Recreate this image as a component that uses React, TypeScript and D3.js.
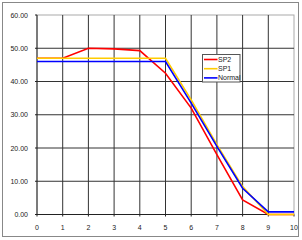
import React from "react";
import * as d3 from "d3";

const xValues = [0, 1, 2, 3, 4, 5, 6, 7, 8, 9, 10];
const sp2 = [47, 47, 50, 49.8, 49.3, 42.5, 32, 18, 4.4, 0, 0];
const sp1 = [47, 47, 47, 47, 47, 47, 34.5, 21, 8.4, 0, 0];
const normal = [46, 46, 46, 46, 46, 46, 33.5, 20.5, 7.9, 0.8, 0.8];
const yTicks = [0, 10, 20, 30, 40, 50, 60];
const xTicks = [0, 1, 2, 3, 4, 5, 6, 7, 8, 9, 10];
const seriesNames = ["SP2", "SP1", "Normal"];
const seriesColors = ["#ff0000", "#ffcc00", "#0000ff"];

const W = 302;
const H = 240;
const L = 37;
const R = 294;
const T = 15;
const B = 214.5;

export default function App() {
  const x = d3.scaleLinear().domain([0, 10]).range([L, R]);
  const y = d3.scaleLinear().domain([0, 60]).range([B, T]);
  const line = d3
    .line<number>()
    .x((_, i) => x(xValues[i]))
    .y((d) => y(d));
  const series = [sp2, sp1, normal];
  const font = "Arial, 'Liberation Sans', sans-serif";
  return (
    <svg
      width={W}
      height={H}
      style={{ position: "absolute", left: 0, top: 0, background: "#fff" }}
    >
      <rect x={2.5} y={2.5} width={296} height={234} fill="#fff" stroke="#888" strokeWidth={1} />
      <rect x={L} y={T} width={R - L} height={B - T} fill="#fff" stroke="#aaa" strokeWidth={1} />
      {yTicks.slice(1, -1).map((t) => (
        <line key={"gy" + t} x1={L} x2={R} y1={y(t)} y2={y(t)} stroke="#333" strokeWidth={1} />
      ))}
      {xTicks.slice(1, -1).map((t) => (
        <line key={"gx" + t} x1={x(t)} x2={x(t)} y1={T} y2={B} stroke="#333" strokeWidth={1} />
      ))}
      <line x1={L} x2={L} y1={T} y2={B} stroke="#222" strokeWidth={1} />
      <line x1={L} x2={R} y1={B} y2={B} stroke="#222" strokeWidth={1} />
      {yTicks.map((t) => (
        <g key={"ty" + t}>
          <line x1={L - 2} x2={L} y1={y(t)} y2={y(t)} stroke="#222" />
          <text
            x={28}
            y={y(t)}
            textAnchor="end"
            dominantBaseline="central"
            fontSize={7}
            fontFamily={font}
            fill="#222"
          >
            {t.toFixed(2)}
          </text>
        </g>
      ))}
      {xTicks.map((t) => (
        <g key={"tx" + t}>
          <line x1={x(t)} x2={x(t)} y1={B} y2={B + 2} stroke="#222" />
          <text
            x={x(t)}
            y={227}
            textAnchor="middle"
            dominantBaseline="central"
            fontSize={7}
            fontFamily={font}
            fill="#222"
          >
            {t}
          </text>
        </g>
      ))}
      {series.map((s, i) => (
        <path key={"s" + i} d={line(s) || ""} fill="none" stroke={seriesColors[i]} strokeWidth={1.6} />
      ))}
      <rect x={202.5} y={54.5} width={37.5} height={27.5} fill="#fff" stroke="#555" strokeWidth={1} />
      {seriesNames.map((n, i) => {
        const cy = 59.5 + i * 9.2;
        return (
          <g key={"lg" + n}>
            <line x1={204} x2={217.5} y1={cy} y2={cy} stroke={seriesColors[i]} strokeWidth={1.6} />
            <text
              x={218}
              y={cy}
              dominantBaseline="central"
              fontSize={7}
              fontFamily={font}
              fill="#222"
            >
              {n}
            </text>
          </g>
        );
      })}
    </svg>
  );
}
